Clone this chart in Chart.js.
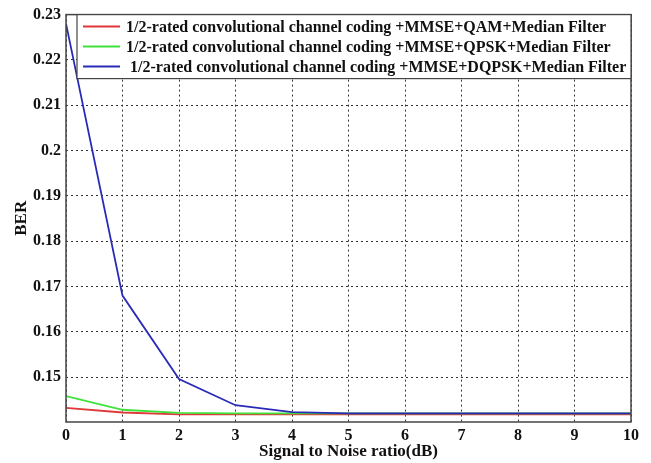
<!DOCTYPE html>
<html>
<head>
<meta charset="utf-8">
<script src="https://cdn.jsdelivr.net/npm/chart.js@4"></script>
<style>
  html, body { margin: 0; padding: 0; background: #fff; }
  #wrap { width: 651px; height: 463px; }
</style>
</head>
<body>
<div id="wrap"><canvas id="berChart" width="651" height="463"></canvas></div>
<script>
// ── data ──
const snr = [0, 1, 2, 3, 4, 5, 6, 7, 8, 9, 10];
const berQAM   = [0.1432, 0.1422, 0.1418, 0.1418, 0.1418, 0.1418, 0.1418, 0.1418, 0.1418, 0.1418, 0.1418];
const berQPSK  = [0.1458, 0.1428, 0.1421, 0.1420, 0.1420, 0.1420, 0.1420, 0.1420, 0.1420, 0.1420, 0.1420];
const berDQPSK = [0.2280, 0.1680, 0.1496, 0.1438, 0.1423, 0.1420, 0.1420, 0.1420, 0.1420, 0.1420, 0.1420];
const yTicks = [0.15, 0.16, 0.17, 0.18, 0.19, 0.2, 0.21, 0.22, 0.23];
const seriesNames = [
    '1/2-rated convolutional channel coding +MMSE+QAM+Median Filter',
    '1/2-rated convolutional channel coding +MMSE+QPSK+Median Filter',
    ' 1/2-rated convolutional channel coding +MMSE+DQPSK+Median Filter'
];
const seriesColors = ['#e0383a', '#3ee23a', '#2a2ab8'];

const FONT = "'Liberation Serif', 'Times New Roman', serif";

// solid frame round the plot (matlab style box)
const frameBox = {
    id: 'frameBox',
    afterDraw(chart) {
        const { ctx, chartArea: a } = chart;
        ctx.save();
        ctx.strokeStyle = '#444';
        ctx.lineWidth = 1.5;
        ctx.strokeRect(a.left, a.top, a.right - a.left, a.bottom - a.top);
        ctx.restore();
    }
};

// legend box sitting inside the top of the plot
const insideLegend = {
    id: 'insideLegend',
    afterDraw(chart) {
        const { ctx, chartArea: a } = chart;
        const x0 = a.left + 11, y0 = a.top, x1 = a.right, rowH = 20;
        const h = rowH * chart.data.datasets.length + 4;
        ctx.save();
        ctx.fillStyle = '#fff';
        ctx.fillRect(x0, y0, x1 - x0, h);
        ctx.strokeStyle = '#444';
        ctx.lineWidth = 1.2;
        ctx.strokeRect(x0, y0, x1 - x0, h);
        ctx.font = 'bold 16px ' + FONT;
        ctx.textBaseline = 'middle';
        chart.data.datasets.forEach((ds, i) => {
            const cy = y0 + 12 + i * rowH;
            ctx.strokeStyle = ds.borderColor;
            ctx.lineWidth = 2;
            ctx.beginPath();
            ctx.moveTo(x0 + 6, cy);
            ctx.lineTo(x0 + 43, cy);
            ctx.stroke();
            ctx.fillStyle = '#111';
            ctx.fillText(ds.label, x0 + 49, cy + 1);
        });
        ctx.restore();
    }
};

new Chart(document.getElementById('berChart'), {
    type: 'line',
    data: {
        labels: snr,
        datasets: [
            { label: seriesNames[0], data: berQAM,   borderColor: seriesColors[0], order: 2 },
            { label: seriesNames[1], data: berQPSK,  borderColor: seriesColors[1], order: 1 },
            { label: seriesNames[2], data: berDQPSK, borderColor: seriesColors[2], order: 0 }
        ].map(d => Object.assign(d, { borderWidth: 1.8, pointRadius: 0, tension: 0, fill: false }))
    },
    options: {
        responsive: false,
        animation: false,
        devicePixelRatio: 1,
        layout: { padding: { top: 13, right: 20, left: 0, bottom: 0 } },
        plugins: { legend: { display: false }, tooltip: { enabled: false } },
        scales: {
            x: {
                type: 'linear',
                min: 0, max: 10,
                afterFit(s) { s.height = 41; },
                afterBuildTicks(s) { s.ticks = snr.map(v => ({ value: v })); },
                grid: { color: '#333', lineWidth: 1, drawTicks: false },
                border: { display: false, dash: [2, 3] },
                ticks: { color: '#111', padding: 4, maxRotation: 0, font: { family: FONT, weight: 'bold', size: 16 } },
                title: { display: true, text: 'Signal to Noise ratio(dB)', color: '#111', padding: { top: 0, bottom: 1 },
                         font: { family: FONT, weight: 'bold', size: 17 } }
            },
            y: {
                min: 0.1401, max: 0.23,
                afterFit(s) { s.width = 66; },
                afterBuildTicks(s) { s.ticks = yTicks.map(v => ({ value: v })); },
                grid: { color: '#333', lineWidth: 1, drawTicks: false },
                border: { display: false, dash: [2, 3] },
                ticks: { color: '#111', padding: 5, font: { family: FONT, weight: 'bold', size: 16 },
                         callback: v => String(+v.toFixed(2)) },
                title: { display: true, text: 'BER', color: '#111', padding: { top: 11, bottom: 0 },
                         font: { family: FONT, weight: 'bold', size: 17 } }
            }
        }
    },
    plugins: [frameBox, insideLegend]
});
</script>
</body>
</html>
